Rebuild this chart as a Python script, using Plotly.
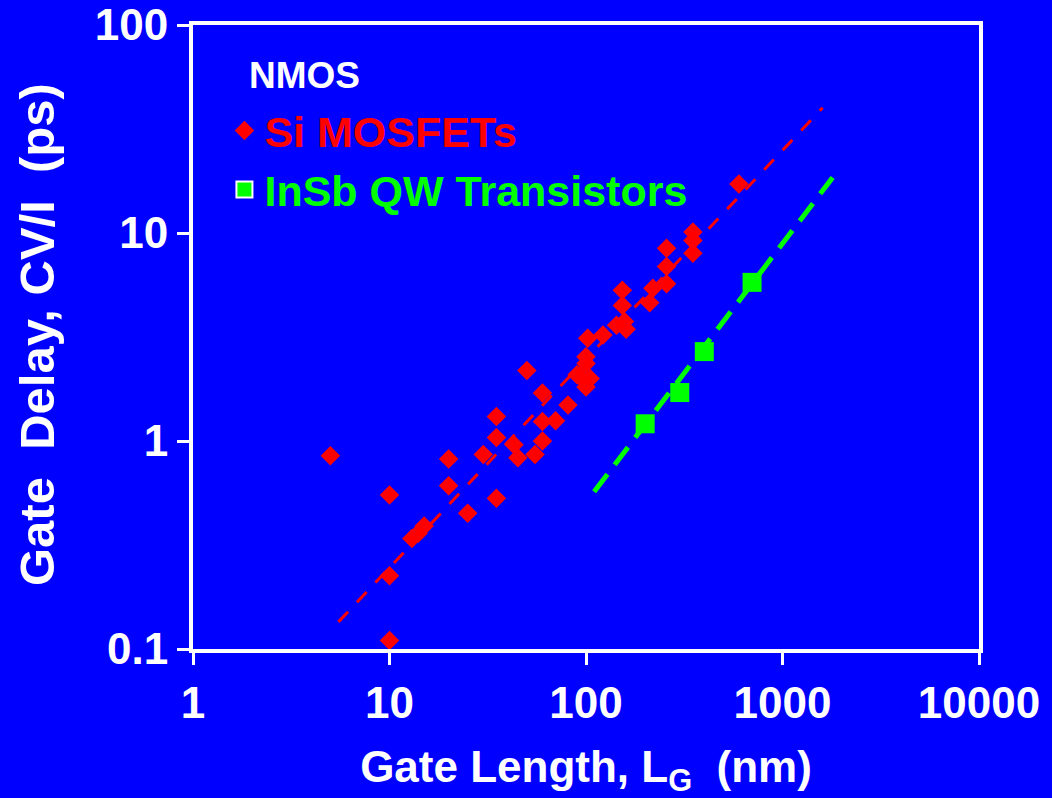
import plotly.graph_objects as go

# ---- data (gate length nm, gate delay ps) ----
si_len = [5, 10, 10, 10, 13, 14, 15, 20, 20, 25, 35, 30, 35, 35, 50, 43, 45, 55, 60, 60,
          70, 60, 81, 100, 93, 90, 100, 102, 105, 100, 122, 143, 157, 160, 153, 153,
          211, 219, 257, 257, 257, 350, 350, 350, 600]
si_delay = [0.85, 0.55, 0.11, 0.225, 0.34, 0.36, 0.39, 0.82, 0.61, 0.45, 0.53, 0.86, 1.04, 1.31,
            2.18, 0.96, 0.83, 0.86, 1.0, 1.24, 1.25, 1.70, 1.49, 2.36, 2.05, 2.08, 1.82, 3.12,
            2.0, 2.54, 3.23, 3.6, 3.75, 3.45, 5.3, 4.48, 4.62, 5.42, 8.44, 6.9, 5.7, 10.1,
            9.2, 8.0, 17.2]

insb_len = [200, 300, 400, 700]
insb_delay = [1.21, 1.71, 2.69, 5.79]

si_fit_len = [5.5, 1600]
si_fit_delay = [0.135, 40]
insb_fit_len = [110, 1800]
insb_fit_delay = [0.57, 18.5]

x_ticks = [1, 10, 100, 1000, 10000]
x_ticktext = ["1", "10", "100", "1000", "10000"]
y_ticks = [0.1, 1, 10, 100]
y_ticktext = ["0.1", "1", "10", "100"]

BLUE = "#0000FF"
RED = "#FF0000"
GREEN = "#00FF00"
FONT = "Liberation Sans, Arial, sans-serif"

fig = go.Figure()

fig.add_trace(go.Scatter(x=si_fit_len, y=si_fit_delay, mode="lines",
                         line=dict(color=RED, width=3, dash="14px,13px"),
                         showlegend=False, hoverinfo="skip"))
fig.add_trace(go.Scatter(x=insb_fit_len, y=insb_fit_delay, mode="lines",
                         line=dict(color=GREEN, width=5, dash="22px,12px"),
                         showlegend=False, hoverinfo="skip"))

fig.add_trace(go.Scatter(x=si_len, y=si_delay, mode="markers",
                         name="<b><span style='color:#FF0000'>Si MOSFETs</span></b>",
                         legendgroup="a",
                         marker=dict(symbol="diamond", size=15, color=RED,
                                     line=dict(width=0))))
fig.add_trace(go.Scatter(x=insb_len, y=insb_delay, mode="markers",
                         showlegend=False,
                         marker=dict(symbol="square", size=19, color=GREEN,
                                     line=dict(width=0))))
# legend entry for InSb (square with white outline as in the reference legend)
fig.add_trace(go.Scatter(x=[None], y=[None], mode="markers",
                         name="<b><span style='color:#00FF00'>InSb QW Transistors</span></b>",
                         legendgroup="b",
                         marker=dict(symbol="square", size=16, color=GREEN,
                                     line=dict(width=2, color="white"))))

axis_common = dict(
    type="log",
    showgrid=False,
    zeroline=False,
    showline=True,
    linecolor="white",
    linewidth=4,
    mirror=True,
    ticks="outside",
    ticklen=12,
    tickwidth=3,
    tickcolor="white",
    automargin=False,
    tickfont=dict(family=FONT, size=44, color="white", weight="bold"),
)

fig.update_layout(
    width=1052,
    height=798,
    paper_bgcolor=BLUE,
    plot_bgcolor=BLUE,
    margin=dict(l=193, r=73, t=25, b=149, autoexpand=False),
    xaxis=dict(
        axis_common,
        range=[0, 4],
        tickvals=x_ticks,
        ticktext=x_ticktext,
        title=dict(text="Gate Length, L<sub>G</sub>\u00a0\u00a0(nm)",
                   font=dict(family=FONT, size=44, color="white", weight="bold"),
                   standoff=27),
    ),
    yaxis=dict(
        axis_common,
        range=[-1, 2],
        tickvals=y_ticks,
        ticktext=y_ticktext,
    ),
    legend=dict(
        x=0.04, y=0.886, xanchor="left", yanchor="top",
        bgcolor="rgba(0,0,0,0)",
        borderwidth=0,
        font=dict(family=FONT, size=43, color="white"),
        tracegroupgap=0,
        itemsizing="trace",
    ),
    showlegend=True,
    annotations=[
        dict(text="<b>NMOS</b>", xref="paper", yref="paper",
             x=(247 - 193) / 786, y=1 - (75 - 25) / 624,
             xanchor="left", yanchor="middle", showarrow=False,
             font=dict(family=FONT, size=37, color="white")),
        dict(text="<b>Gate\u00a0\u00a0Delay,\u00a0CV/I\u00a0\u00a0(ps)</b>",
             xref="paper", yref="paper",
             x=(37 - 193) / 786, y=1 - (335 - 25) / 624,
             xanchor="center", yanchor="middle", textangle=-90, showarrow=False,
             font=dict(family=FONT, size=49, color="white")),
    ],
)

fig.write_html("out.html")
